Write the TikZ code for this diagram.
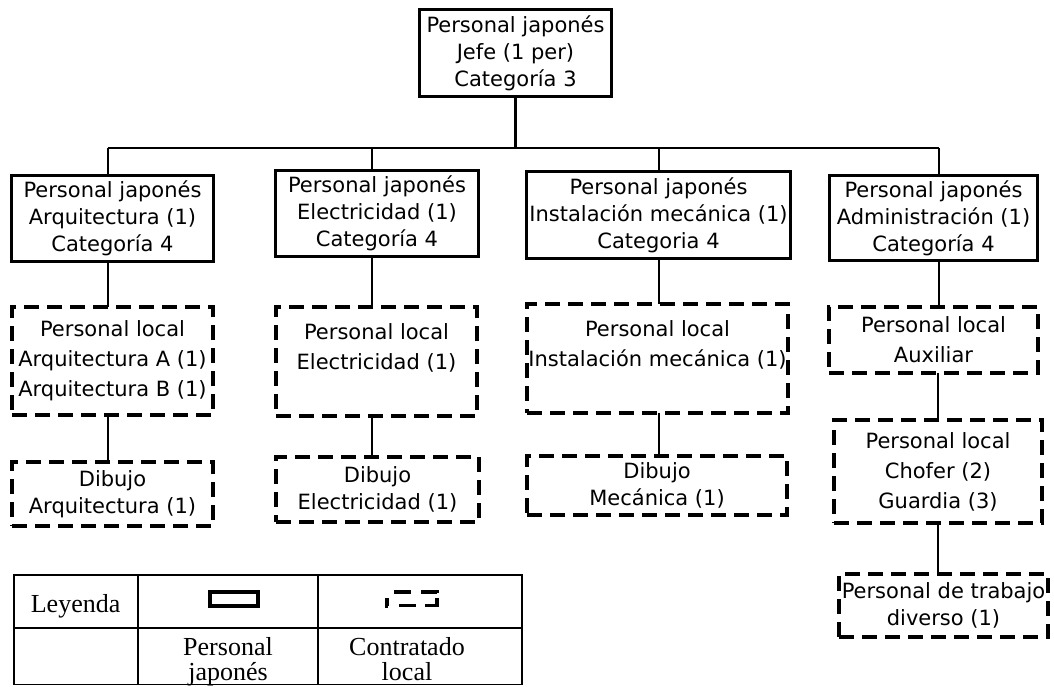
\documentclass[tikz,border=0pt]{standalone}
\usepackage{fontspec}
\setmainfont{DejaVu Sans}
\newfontfamily\legfont{Liberation Serif}
\begin{document}
\begin{tikzpicture}[x=1pt,y=-1pt,
  sbox/.style={draw, line width=3.4pt, inner sep=0pt, outer sep=0pt, align=center,
    font=\fontsize{21}{27}\selectfont},
  dbox/.style={draw, line width=3.8pt, dash pattern=on 15pt off 8pt, inner sep=0pt, outer sep=0pt,
    align=center, font=\fontsize{21}{27}\selectfont},
  lsp/.style={font=\fontsize{21}{30}\selectfont},
  conn/.style={line width=2.2pt},
  leg/.style={line width=1.6pt},
  legtext/.style={inner sep=0pt, align=center, font=\legfont\fontsize{26}{25}\selectfont},
  icon/.style={line width=3.2pt},
  dicon/.style={line width=3.6pt}]
\useasboundingbox (0,0) rectangle (1054,686);

% solid boxes
\node[sbox, minimum width=192pt, minimum height=87pt] (top) at (515.5,53) {Personal japonés\\Jefe (1 per)\\Categoría 3};
\node[sbox, minimum width=202pt, minimum height=86pt] (A) at (112.5,218.5) {Personal japonés\\Arquitectura (1)\\Categoría 4};
\node[sbox, minimum width=203pt, minimum height=86pt] (E) at (377,213.5) {Personal japonés\\Electricidad (1)\\Categoría 4};
\node[sbox, minimum width=264pt, minimum height=87pt] (I) at (658.5,215) {Personal japonés\\Instalación mecánica (1)\\Categoria 4};
\node[sbox, minimum width=208pt, minimum height=85pt] (D) at (933.5,218) {Personal japonés\\Administración (1)\\Categoría 4};

% dashed boxes
\node[dbox, lsp, minimum width=201pt, minimum height=108pt] (Al) at (112.5,361) {Personal local\\Arquitectura A (1)\\Arquitectura B (1)};
\node[dbox, lsp, minimum width=201pt, minimum height=109pt] (El) at (376.5,361.5) {Personal local\\Electricidad (1)\\~};
\node[dbox, lsp, minimum width=261pt, minimum height=109pt] (Il) at (657.5,358.5) {Personal local\\Instalación mecánica (1)\\~};
\node[dbox, lsp, minimum width=209pt, minimum height=66pt] (Dl) at (933.5,340) {Personal local\\Auxiliar};
\node[dbox, lsp, minimum width=208pt, minimum height=103pt] (D2) at (938,471.5) {Personal local\\Chofer (2)\\Guardia (3)};
\node[dbox, minimum width=209pt, minimum height=63pt] (D3) at (943.5,605.5) {Personal de trabajo\\diverso (1)};
\node[dbox, minimum width=201pt, minimum height=64pt] (AD) at (112.5,494) {Dibujo\\Arquitectura (1)};
\node[dbox, minimum width=203pt, minimum height=65pt] (ED) at (377.5,489.5) {Dibujo\\Electricidad (1)};
\node[dbox, minimum width=260pt, minimum height=59pt] (ID) at (657,485.5) {Dibujo\\Mecánica (1)};

% connector coordinates
\coordinate (bar) at (0,148);
\coordinate (xA) at (108,0);
\coordinate (xE) at (372,0);
\coordinate (xI) at (659,0);
\coordinate (xD) at (939,0);
\coordinate (xD2) at (938,0);

\draw[conn] (top.south) -- (top.south |- bar);
\draw[conn] (xA |- bar) -- (xD |- bar);
\draw[conn] (xA |- bar) -- (xA |- A.north);
\draw[conn] (xE |- bar) -- (xE |- E.north);
\draw[conn] (xI |- bar) -- (xI |- I.north);
\draw[conn] (xD |- bar) -- (xD |- D.north);

\draw[conn] (xA |- A.south) -- (xA |- Al.north);
\draw[conn] (xE |- E.south) -- (xE |- El.north);
\draw[conn] (xI |- I.south) -- (xI |- Il.north);
\draw[conn] (xD |- D.south) -- (xD |- Dl.north);

\draw[conn] (xA |- Al.south) -- (xA |- AD.north);
\draw[conn] (xE |- El.south) -- (xE |- ED.north);
\draw[conn] (xI |- Il.south) -- (xI |- ID.north);
\draw[conn] (xD2 |- Dl.south) -- (xD2 |- D2.north);
\draw[conn] (xD2 |- D2.south) -- (xD2 |- D3.north);

% legend table
\draw[leg] (14,575) rectangle (522,684.5);
\draw[leg] (14,628) -- (522,628);
\draw[leg] (138,575) -- (138,684.5);
\draw[leg] (318,575) -- (318,684.5);
\node[legtext, anchor=base] (ley) at (75.6,612) {Leyenda};
\node[legtext, anchor=base] (lp) at (228,680) {Personal\\japonés};
\node[legtext, anchor=base] (lc) at (407,680) {Contratado\\local};
\draw[icon] (210,592) rectangle (258,606);
\draw[dicon] (394,592) -- (411,592);
\draw[dicon] (421,592) -- (437,592) -- (437,593);
\draw[dicon] (387,598) -- (387,606) -- (388,606);
\draw[dicon] (399,605.5) -- (416,605.5);
\draw[dicon] (425,605.5) -- (437,605.5) -- (437,598);
\end{tikzpicture}
\end{document}
